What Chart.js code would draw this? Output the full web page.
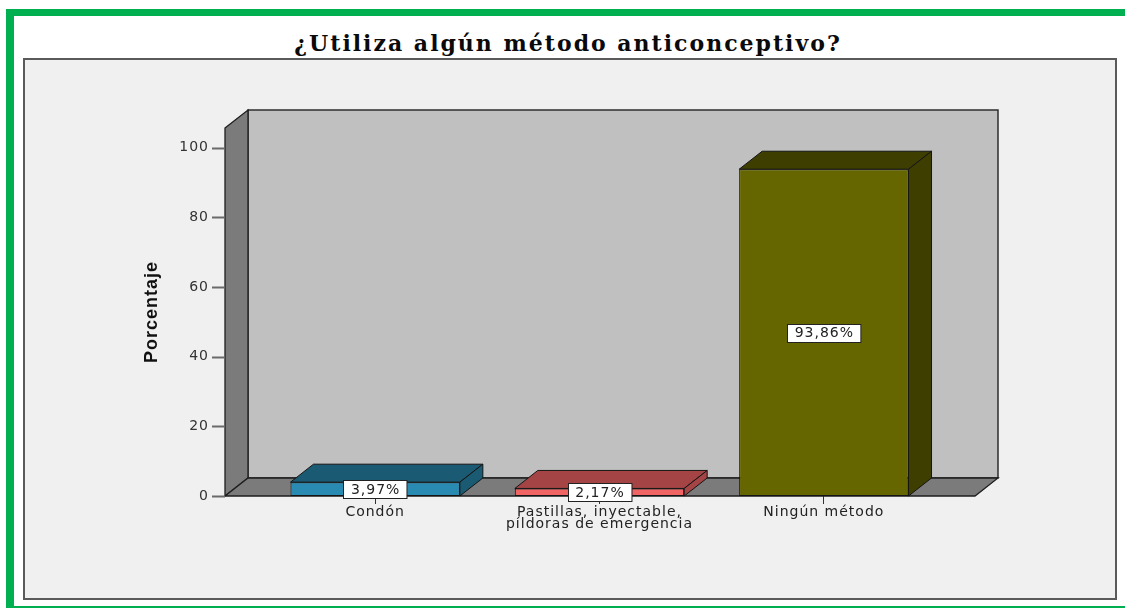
<!DOCTYPE html>
<html lang="es">
<head>
<meta charset="utf-8">
<title>¿Utiliza algún método anticonceptivo?</title>
<script src="https://cdn.jsdelivr.net/npm/chart.js@4"></script>
<style>
  html, body { margin: 0; padding: 0; background: #fff; }
  #page { position: relative; width: 1125px; height: 608px; overflow: hidden; }
  .frame { position: absolute; background: #00b050; }
  #panel { position: absolute; left: 23px; top: 58px; width: 1090px; height: 538px;
           background: #f0f0f0; border: 2px solid #5a5a5a; }
  #title { position: absolute; left: 0; width: 1136px; top: 30px; text-align: center;
           font: bold 22px "DejaVu Serif", serif; letter-spacing: 2px; color: #0a0a0a; }
  #chart { position: absolute; left: 0; top: 0; }
</style>
</head>
<body>
<div id="page">
  <div class="frame" style="left:6px;top:9px;width:1119px;height:7px"></div>
  <div class="frame" style="left:6px;top:9px;width:8px;height:599px"></div>
  <div class="frame" style="left:6px;top:606px;width:1119px;height:2px"></div>
  <div id="panel"></div>
  <div id="title">¿Utiliza algún método anticonceptivo?</div>
  <canvas id="chart" width="1125" height="608"></canvas>
</div>
<script>
// Categories, percentages and colours
const categories = ['Condón', ['Pastillas, inyectable,', 'píldoras de emergencia'], 'Ningún método'];
const percentages = [3.97, 2.17, 93.86];
const frontColors = ['#2a8bb2', '#f06464', '#666600'];
const shadeColors = ['#1a5a72', '#a44444', '#3e3e00'];
const yTicks = [0, 20, 40, 60, 80, 100];
const yMax = 105.7;

// Depth of the 3D box and how far the floor reaches past the outer categories
const DEPTH = { dx: 23, dy: -18 };
const FLOOR_OVERHANG = { left: 38, right: 39 };

function poly(ctx, pts, fill, stroke, width) {
  ctx.beginPath();
  ctx.moveTo(pts[0][0], pts[0][1]);
  for (let i = 1; i < pts.length; i++) ctx.lineTo(pts[i][0], pts[i][1]);
  ctx.closePath();
  ctx.fillStyle = fill;
  ctx.fill();
  ctx.lineJoin = 'miter';
  ctx.strokeStyle = stroke;
  ctx.lineWidth = width;
  ctx.stroke();
}

function formatPct(v) {
  return v.toFixed(2).replace('.', ',') + '%';
}

const box3d = {
  id: 'box3d',
  beforeDraw(chart) {
    chart.ctx.letterSpacing = '1px';
  },
  beforeDatasetsDraw(chart) {
    const { ctx, chartArea: a, scales: { y } } = chart;
    const { dx, dy } = DEPTH;
    const fl = a.left - FLOOR_OVERHANG.left;
    const fr = a.right + FLOOR_OVERHANG.right;
    const top = y.getPixelForValue(yMax);
    const base = y.getPixelForValue(0);
    ctx.save();
    // back wall
    poly(ctx, [[fl + dx, top + dy], [fr + dx, top + dy], [fr + dx, base + dy], [fl + dx, base + dy]],
         '#c0c0c0', '#2e2e2e', 1.5);
    // left side wall
    poly(ctx, [[fl, top], [fl + dx, top + dy], [fl + dx, base + dy], [fl, base]],
         '#7b7b7b', '#1e1e1e', 1.3);
    // floor
    poly(ctx, [[fl, base], [fl + dx, base + dy], [fr + dx, base + dy], [fr, base]],
         '#7b7b7b', '#1e1e1e', 1.3);
    // y tick marks on the front edge of the side wall
    ctx.strokeStyle = '#6a6a6a';
    ctx.lineWidth = 2;
    yTicks.forEach(v => {
      const py = Math.round(y.getPixelForValue(v)) + 0.5;
      ctx.beginPath();
      ctx.moveTo(fl - 13, py);
      ctx.lineTo(fl, py);
      ctx.stroke();
    });
    ctx.restore();
  },
  afterDatasetsDraw(chart) {
    const { ctx } = chart;
    const { dx, dy } = DEPTH;
    const meta = chart.getDatasetMeta(0);
    ctx.save();
    meta.data.forEach((bar, i) => {
      const { x, y, base, width } = bar.getProps(['x', 'y', 'base', 'width'], true);
      const l = x - width / 2, r = x + width / 2;
      // top face
      poly(ctx, [[l, y], [l + dx, y + dy], [r + dx, y + dy], [r, y]], shadeColors[i], '#151515', 1);
      // right side face
      poly(ctx, [[r, y], [r + dx, y + dy], [r + dx, base + dy], [r, base]], shadeColors[i], '#151515', 1);
    });
    // value labels in white boxes, centred on the front face
    ctx.font = '14px "DejaVu Sans"';
    ctx.textAlign = 'center';
    ctx.textBaseline = 'middle';
    meta.data.forEach((bar, i) => {
      const { x, y, base } = bar.getProps(['x', 'y', 'base'], true);
      const cy = (y + base) / 2;
      const text = formatPct(percentages[i]);
      const w = ctx.measureText(text).width + 14;
      const h = 18;
      const bx = Math.round(x - w / 2) + 0.5, by = Math.round(cy - h / 2) + 0.5;
      ctx.fillStyle = '#ffffff';
      ctx.fillRect(bx, by, w, h);
      ctx.strokeStyle = '#222';
      ctx.lineWidth = 1;
      ctx.strokeRect(bx, by, w, h);
      ctx.fillStyle = '#222';
      ctx.fillText(text, x + 0.5, cy + 1);
    });
    ctx.restore();
  }
};

Chart.defaults.font.family = '"DejaVu Sans", sans-serif';
Chart.defaults.font.size = 14;

new Chart(document.getElementById('chart'), {
  type: 'bar',
  data: {
    labels: categories,
    datasets: [{
      data: percentages,
      backgroundColor: frontColors,
      borderColor: '#151515',
      borderWidth: 1,
      borderSkipped: false,
      barPercentage: 0.755,
      categoryPercentage: 1
    }]
  },
  options: {
    responsive: false,
    animation: false,
    layout: { padding: { top: 128, right: 189, bottom: 0, left: 0 } },
    plugins: { legend: { display: false }, tooltip: { enabled: false }, title: { display: false } },
    scales: {
      x: {
        offset: true,
        afterFit: s => { s.height = 112; },
        grid: { display: true, offset: false, drawOnChartArea: false, drawTicks: true,
                tickLength: 8, color: '#333', lineWidth: 1 },
        border: { display: false },
        ticks: { padding: 3, color: '#222', autoSkip: false, maxRotation: 0,
                 font: { size: 14, lineHeight: 0.82 } }
      },
      y: {
        min: 0,
        max: yMax,
        afterFit: s => { s.width = 263; },
        afterBuildTicks: s => { s.ticks = yTicks.map(v => ({ value: v })); },
        grid: { display: false, drawTicks: true, tickLength: 51 },
        border: { display: false },
        ticks: { padding: 3, color: '#333', font: { size: 14 } },
        title: { display: true, text: 'Porcentaje', color: '#111',
                 font: { family: '"Liberation Sans", Arial, sans-serif', weight: 'bold', size: 18 },
                 padding: { top: 141, bottom: 0 } }
      }
    }
  },
  plugins: [box3d]
});
</script>
</body>
</html>
